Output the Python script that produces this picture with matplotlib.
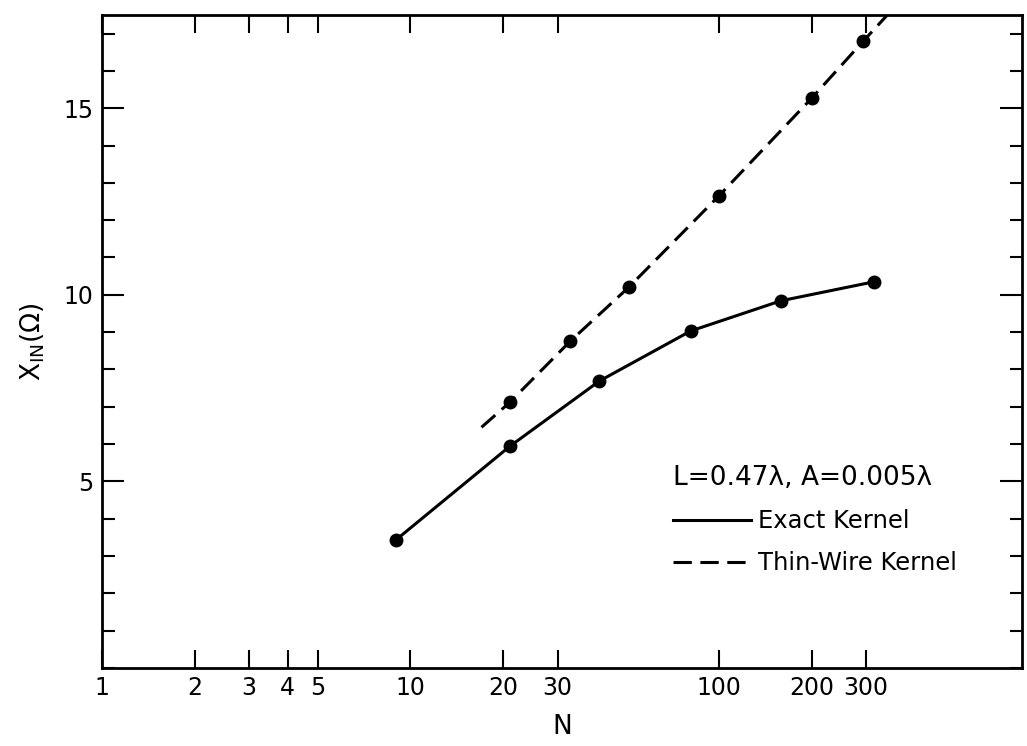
import matplotlib
matplotlib.use('Agg')
import matplotlib.pyplot as plt
from matplotlib.lines import Line2D
from matplotlib.ticker import MultipleLocator, FixedLocator, NullLocator

# Datos
exact_n = [9, 21, 41, 81, 159, 319]
exact_x = [3.44, 5.94, 7.69, 9.03, 9.84, 10.35]

thin_n = [21, 33, 51, 100, 200, 294]
thin_x = [7.12, 8.76, 10.2, 12.65, 15.27, 16.8]

# la recta de trazos se prolonga fuera de los puntos
thin_line_n = [17, 21, 33, 51, 100, 200, 294, 390]
thin_line_x = [6.45, 7.12, 8.76, 10.2, 12.65, 15.27, 16.8, 17.9]

xticks = [1, 2, 3, 4, 5, 10, 20, 30, 100, 200, 300]
xtick_labels = ['1', '2', '3', '4', '5', '10', '20', '30', '100', '200', '300']
yticks = [5, 10, 15]

plt.rcParams['font.family'] = ['DejaVu Sans']
plt.rcParams['mathtext.fontset'] = 'dejavusans'

fig = plt.figure(figsize=(10.27, 7.46), dpi=100)
ax = fig.add_axes([0.0993, 0.1046, 0.8957, 0.8754])

ax.plot(exact_n, exact_x, color='black', lw=2.2, solid_capstyle='butt')
ax.plot(exact_n, exact_x, 'o', color='black', ms=9)
ax.plot(thin_line_n, thin_line_x, color='black', lw=2.2, dashes=(6, 2.8))
ax.plot(thin_n, thin_x, 'o', color='black', ms=9)

ax.set_xscale('log')
ax.set_xlim(1, 960)
ax.set_ylim(0, 17.5)

ax.xaxis.set_major_locator(FixedLocator(xticks))
ax.xaxis.set_minor_locator(NullLocator())
ax.set_xticklabels(xtick_labels)
ax.yaxis.set_major_locator(FixedLocator(yticks))
ax.yaxis.set_minor_locator(MultipleLocator(1))

for s in ax.spines.values():
    s.set_linewidth(2)

ax.tick_params(axis='x', which='major', direction='in', top=True, bottom=True,
               length=13, width=1.5, labelsize=17, pad=6)
ax.tick_params(axis='y', which='major', direction='in', left=True, right=True,
               length=16, width=1.5, labelsize=17, pad=6)
ax.tick_params(axis='y', which='minor', direction='in', left=True, right=True,
               length=9, width=1.5)

ax.set_xlabel('N', fontsize=19, labelpad=10)
ax.set_ylabel(r'X$_{\rm IN}$($\Omega$)', fontsize=19, labelpad=12)

handles = [Line2D([], [], color='black', lw=2.2),
           Line2D([], [], color='black', lw=2.2, dashes=(6, 2.8))]
leg = ax.legend(handles, ['Exact Kernel', 'Thin-Wire Kernel'],
                title='L=0.47λ, A=0.005λ', title_fontsize=19, fontsize=17.5,
                frameon=False, loc='upper left', bbox_to_anchor=(0.61, 0.326),
                handlelength=3.2, handletextpad=0.3, labelspacing=0.75,
                alignment='left', borderaxespad=0)

plt.savefig('out.png', dpi=100)
